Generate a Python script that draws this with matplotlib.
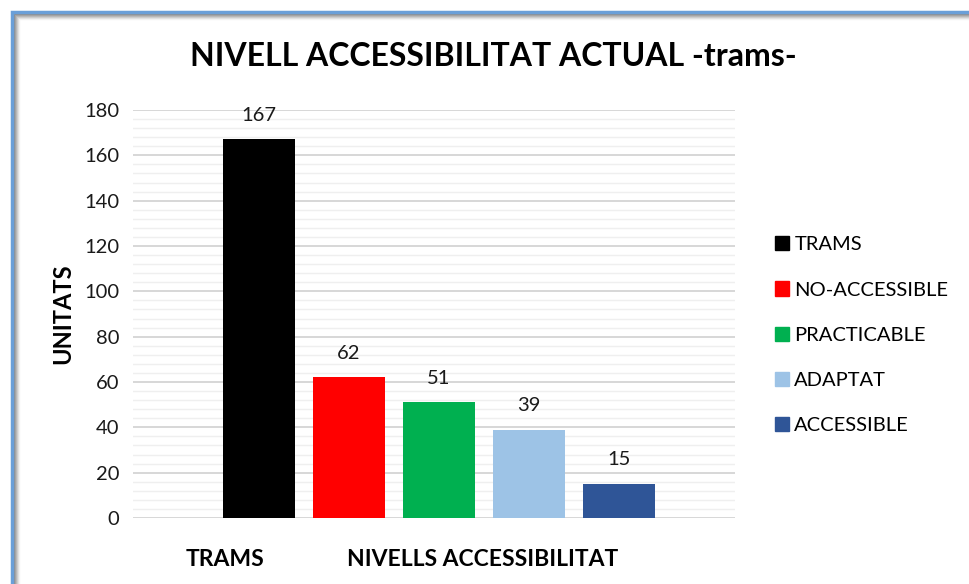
import numpy as np
import matplotlib.pyplot as plt
from matplotlib.patches import Rectangle
from matplotlib.ticker import MultipleLocator

plt.rcParams['font.family'] = ['Lato', 'DejaVu Sans']

# Data
series = ["TRAMS", "NO-ACCESSIBLE", "PRACTICABLE", "ADAPTAT", "ACCESSIBLE"]
values = [167, 62, 51, 39, 15]
colors = ["#000000", "#ff0000", "#00b050", "#9dc3e6", "#2f5597"]
group_labels = ["TRAMS", "NIVELLS ACCESSIBILITAT"]
group_pos = [0.62, 3.49]

fig = plt.figure(figsize=(9.69, 5.84), dpi=100)
W, H = 969, 584

# chart frame (blue border with soft shadow)
for k in range(6):
    g = 0.55 + k * 0.08
    fig.add_artist(Rectangle(((14 + k) / W, -0.1), 1.2, (H - 14 - k) / H + 0.1,
                             transform=fig.transFigure, fill=False,
                             edgecolor=(g, g, g), lw=1.0))
fig.add_artist(Rectangle((12 / W, -0.1), 1.2, (H - 12) / H + 0.1,
                         transform=fig.transFigure, fill=False,
                         edgecolor="#6a9fd8", lw=2.5))

ax = fig.add_axes([133 / W, 1 - 518 / H, (735 - 133) / W, (518 - 110) / H])

x = np.arange(1, len(values) + 1)
bars = ax.bar(x, values, width=0.8, color=colors, zorder=3)
for b, v in zip(bars, values):
    ax.text(b.get_x() + b.get_width() / 2, v + 7, str(v), ha="center",
            va="bottom", fontsize=14.5, color="#1a1a1a")

ax.set_xlim(-0.4, 6.29)
ax.set_ylim(0, 180)
ax.yaxis.set_major_locator(MultipleLocator(20))
ax.yaxis.set_minor_locator(MultipleLocator(4))
ax.grid(which="major", axis="y", color="#d4d4d4", lw=1.3, zorder=0)
ax.grid(which="minor", axis="y", color="#efefef", lw=1.0, zorder=0)
for s in ax.spines.values():
    s.set_visible(False)
ax.tick_params(axis="y", which="both", length=0, labelsize=14.5, pad=10,
               labelcolor="#1a1a1a")
ax.set_xticks(group_pos)
ax.set_xticklabels(group_labels, fontweight="bold", fontsize=16.5)
ax.tick_params(axis="x", length=0, pad=22)
ax.set_ylabel("UNITATS", fontweight="bold", fontsize=17, labelpad=7)

fig.text(493 / W, 1 - 57 / H, "NIVELL ACCESSIBILITAT ACTUAL -trams-",
         ha="center", va="center", fontsize=23, fontweight="bold")

handles = [Rectangle((0, 0), 1, 1, color=c) for c in colors]
fig.legend(handles, series, loc="upper left", bbox_to_anchor=(757 / W, 1 - 218 / H),
           frameon=False, fontsize=14.5, handlelength=0.7, handleheight=0.7,
           handletextpad=0.25, labelspacing=1.4)

fig.savefig("out.png", dpi=100)
